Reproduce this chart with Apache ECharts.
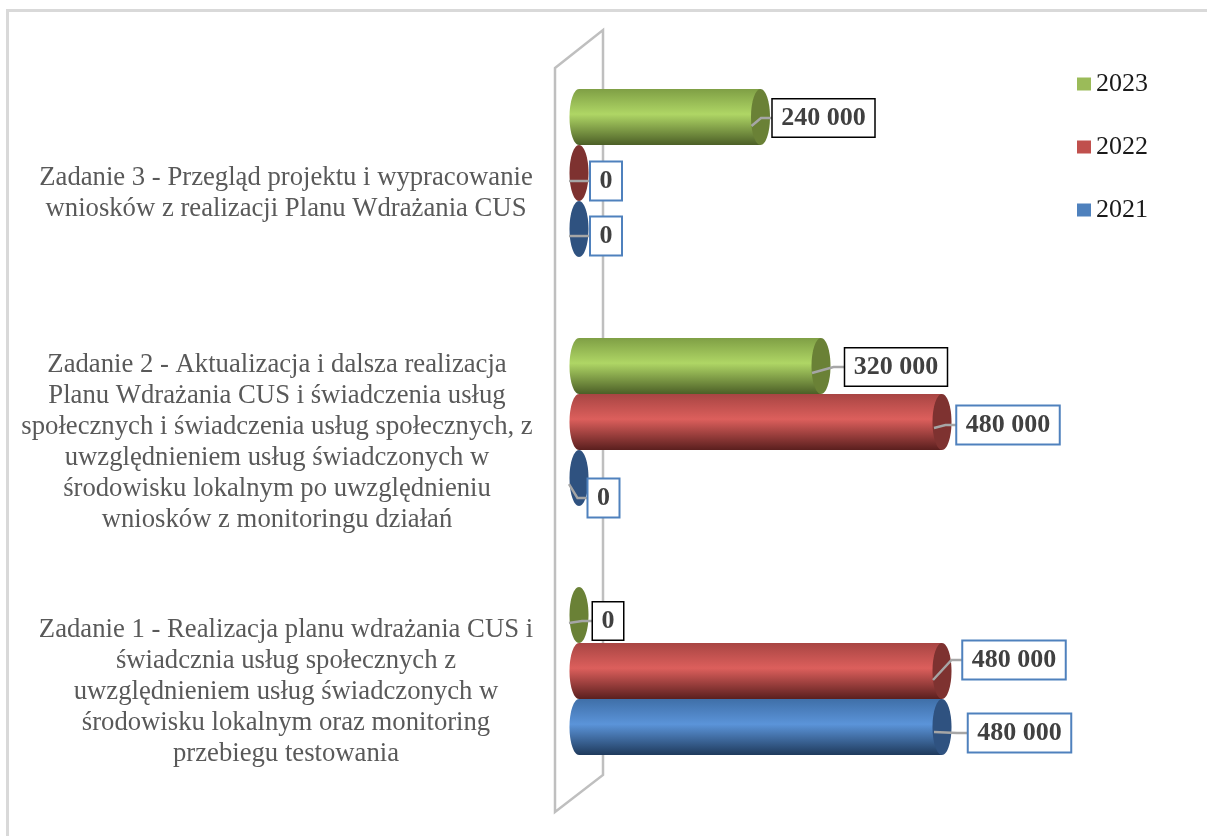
<!DOCTYPE html>
<html>
<head>
<meta charset="utf-8">
<title>Zadania CUS</title>
<style>
  html, body { margin: 0; padding: 0; background: #fff; }
  #chart { width: 1207px; height: 836px; }
</style>
<script src="https://cdn.jsdelivr.net/npm/echarts@6/dist/echarts.min.js"></script>
</head>
<body>
<div id="chart"></div>
<script>
const categories = [
  'Zadanie 1 - Realizacja planu wdrażania CUS i\nświadcznia usług społecznych z\nuwzględnieniem usług świadczonych w\nśrodowisku lokalnym oraz monitoring\nprzebiegu testowania',
  'Zadanie 2 - Aktualizacja i dalsza realizacja\nPlanu Wdrażania CUS i świadczenia usług\nspołecznych i świadczenia usług społecznych, z\nuwzględnieniem usług świadczonych w\nśrodowisku lokalnym po uwzględnieniu\nwniosków z monitoringu działań',
  'Zadanie 3 - Przegląd projektu i wypracowanie\nwniosków z realizacji Planu Wdrażania CUS'
]
const values2021 = [480000, 0, 0]
const values2022 = [480000, 480000, 0]
const values2023 = [0, 320000, 240000]

// wyglad walcow: kolory legendy / gora / srodek / dol / denko
const looks = {
  2021: { legend: '#4f81bd', top: '#3f6fa8', mid: '#5b94d9', bottom: '#1f3a5c', cap: '#2f5280', box: '#4f81bd', slot: 1 },
  2022: { legend: '#c0504d', top: '#a84543', mid: '#dc5f5c', bottom: '#5a1f1e', cap: '#7e3230', box: '#4f81bd', slot: 0 },
  2023: { legend: '#9bbb59', top: '#7f9f45', mid: '#afd665', bottom: '#4c5f27', cap: '#6a8136', box: '#000000', slot: -1 }
}

// ramki etykiet wzgledem denka walca: dx, dy srodka ramki, sx, sy poczatku linii
const labelLayout = {
  2021: [{ dx: 77.5, dy: 6, sx: -8, sy: 5 }, { dx: 24.5, dy: 20, sx: -10, sy: 6 }, { dx: 27, dy: 7, sx: -10, sy: 7 }],
  2022: [{ dx: 72, dy: -11, sx: -9, sy: 9 }, { dx: 66, dy: 3, sx: -8, sy: 6 }, { dx: 27, dy: 8, sx: -10, sy: 8 }],
  2023: [{ dx: 29, dy: 6, sx: -10, sy: 8 }, { dx: 75, dy: 1, sx: -9, sy: 7 }, { dx: 63, dy: 1, sx: -9, sy: 9 }]
}

const CAP_RX = 9.5

function formatValue (v) {
  return String(v).replace(/\B(?=(\d{3})+$)/g, ' ')
}

function cylinder (name) {
  const look = looks[name]
  return function (params, api) {
    const i = api.value(0)
    const v = api.value(1)
    const band = api.size([0, 1])[1]
    const h = band * 0.225
    const base = api.coord([0, i])
    const end = api.coord([v, i])
    const cy = base[1] + look.slot * h
    const top = cy - h / 2
    const fill = new echarts.graphic.LinearGradient(0, 0, 0, 1, [
      { offset: 0, color: look.top },
      { offset: 0.45, color: look.mid },
      { offset: 1, color: look.bottom }
    ])
    const children = []
    if (v > 0) {
      children.push({
        type: 'ellipse',
        shape: { cx: base[0], cy: cy, rx: CAP_RX, ry: h / 2 },
        style: { fill: fill }
      })
      children.push({
        type: 'rect',
        shape: { x: base[0], y: top, width: end[0] - base[0], height: h },
        style: { fill: fill }
      })
    }
    children.push({
      type: 'ellipse',
      shape: { cx: end[0], cy: cy, rx: CAP_RX, ry: h / 2 },
      style: { fill: look.cap }
    })
    const l = labelLayout[name][i]
    const boxW = v > 0 ? 103 : 30
    const lx = end[0] + l.dx
    const ly = cy + l.dy
    children.push({
      type: 'polyline',
      shape: { points: [[end[0] + l.sx, cy + l.sy], [lx - boxW / 2 - 11, ly], [lx - boxW / 2, ly]] },
      style: { fill: 'none', stroke: '#a6a6a6', lineWidth: 2.5 }
    })
    children.push({
      type: 'text',
      x: lx,
      y: ly,
      style: {
        text: formatValue(v),
        align: 'center',
        verticalAlign: 'middle',
        font: 'bold 26px "Liberation Serif"',
        fill: '#404040',
        backgroundColor: '#fff',
        borderColor: look.box,
        borderWidth: look.box === '#000000' ? 1.5 : 2,
        padding: [5.5, 8.5, 5.5, 8.5]
      }
    })
    return { type: 'group', children: children }
  }
}

function makeSeries (name, values) {
  return {
    name: name,
    type: 'custom',
    coordinateSystem: 'cartesian2d',
    xAxisIndex: 0,
    yAxisIndex: 0,
    renderItem: cylinder(name),
    itemStyle: { color: looks[name].legend },
    encode: { x: 1, y: 0 },
    data: values.map((v, i) => [i, v]),
    clip: false,
    z: 3
  }
}

const labelFont = { fontFamily: 'Liberation Serif', fontSize: 26.7, lineHeight: 31, color: '#595959' }

const myChart = echarts.init(document.getElementById('chart'), null, { renderer: 'canvas' })
myChart.setOption({
  animation: false,
  backgroundColor: '#fff',
  // druga siatka tylko dla opisow kategorii, sa troche nizej niz walce
  grid: [
    { left: 579, right: 265, top: 48.5, height: 747 },
    { left: 579, right: 265, top: 69, height: 747 }
  ],
  legend: {
    orient: 'vertical',
    left: 1072,
    top: 66,
    itemWidth: 14,
    itemHeight: 13,
    itemGap: 37,
    icon: 'rect',
    data: ['2023', '2022', '2021'],
    textStyle: { fontFamily: 'Liberation Serif', fontSize: 26, color: '#1a1a1a' }
  },
  xAxis: [
    { type: 'value', gridIndex: 0, min: 0, max: 480000, show: false },
    { type: 'value', gridIndex: 1, min: 0, max: 480000, show: false }
  ],
  yAxis: [
    {
      type: 'category',
      gridIndex: 0,
      data: categories,
      axisLine: { show: false },
      axisTick: { show: false },
      axisLabel: { show: false }
    },
    {
      type: 'category',
      gridIndex: 1,
      data: categories,
      axisLine: { show: false },
      axisTick: { show: false },
      axisLabel: {
        margin: 302,
        align: 'center',
        ...labelFont,
        // opisy zadan 1 i 3 leza troche bardziej w prawo
        formatter: function (value, index) {
          if (index === 1) return value.split('\n').map(s => '{b|' + s + '}').join('\n')
          return value.split('\n').map(s => '{a|' + s + '}').join('\n')
        },
        rich: {
          a: { ...labelFont, padding: [0, 0, 0, 18] },
          b: { ...labelFont }
        }
      }
    }
  ],
  graphic: [
    {
      type: 'polyline',
      shape: { points: [[7.5, 836], [7.5, 10.5], [1207, 10.5]] },
      style: { fill: 'none', stroke: '#d9d9d9', lineWidth: 3 },
      z: 0
    },
    {
      type: 'polygon',
      shape: { points: [[555, 68], [603, 30], [603, 775], [555, 812]] },
      style: { fill: 'none', stroke: '#bfbfbf', lineWidth: 2.5 },
      z: 0
    }
  ],
  series: [
    makeSeries('2021', values2021),
    makeSeries('2022', values2022),
    makeSeries('2023', values2023)
  ]
})
</script>
</body>
</html>
